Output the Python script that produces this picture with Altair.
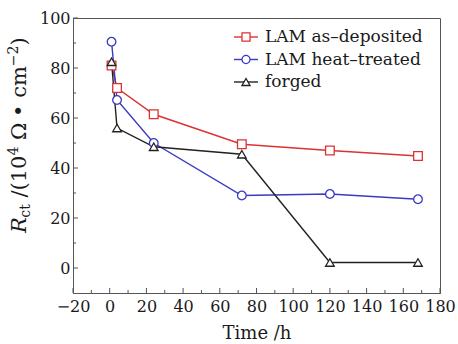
import altair as alt
import pandas as pd

# ---------------- data ----------------
series_names = ["LAM as–deposited", "LAM heat–treated", "forged"]
time_h = [1, 4, 24, 72, 120, 168]
rct_as_deposited = [81.0, 72.0, 61.5, 49.5, 47.0, 44.8]
rct_heat_treated = [90.5, 67.2, 50.0, 29.0, 29.6, 27.5]
rct_forged = [82.5, 56.0, 48.5, 45.5, 2.2, 2.2]

x_major = list(range(-20, 181, 20))
x_minor = list(range(-10, 180, 20))
y_major = list(range(0, 101, 20))
y_minor = list(range(10, 100, 20))

colors = ["#dc3232", "#3a3ac2", "#222222"]
shapes = ["square", "circle", "triangle-up"]

rows = []
for name, vals in zip(series_names, [rct_as_deposited, rct_heat_treated, rct_forged]):
    for t, v in zip(time_h, vals):
        rows.append({"series": name, "time": t, "rct": v})
df = pd.DataFrame(rows)

FONT = "DejaVu Serif"
W, H = 367, 275
xs = alt.Scale(domain=[-20, 180], nice=False, zero=False)
ys = alt.Scale(domain=[-10, 100], nice=False, zero=False)
cs = alt.Scale(domain=series_names, range=colors)
ss = alt.Scale(domain=series_names, range=shapes)

x_axis = alt.Axis(values=x_major, ticks=False, tickSize=0, labelPadding=5,
                  labelFlush=False, labelOverlap=False,
                  labelFont=FONT, labelFontSize=16, labelColor="#1a1a1a",
                  title="Time /h", titleFont=FONT, titleFontSize=18,
                  titleFontWeight="normal", titleColor="#1a1a1a",
                  titleBaseline="alphabetic", titleY=45,
                  domainColor="#555555", grid=False)
y_axis = alt.Axis(values=y_major, ticks=False, tickSize=0, labelPadding=3,
                  labelFlush=False, labelOverlap=False,
                  labelFont=FONT, labelFontSize=16, labelColor="#1a1a1a",
                  title="", domainColor="#555555", grid=False)

X_TIME = alt.X("time:Q", scale=xs, axis=x_axis, title="Time /h")
Y_RCT = alt.Y("rct:Q", scale=ys, axis=y_axis, title="")

lines = alt.Chart(df).mark_line(strokeWidth=1.4).encode(
    x=X_TIME, y=Y_RCT,
    color=alt.Color("series:N", scale=cs, legend=None),
    detail="series:N",
)
points = alt.Chart(df).mark_point(size=75, strokeWidth=1.3, fill="white",
                                  fillOpacity=1, opacity=1).encode(
    x=X_TIME, y=Y_RCT,
    color=alt.Color("series:N", scale=cs, legend=None),
    shape=alt.Shape("series:N", scale=ss, legend=None),
)

# inward ticks
def xticks(vals, length):
    return alt.Chart(pd.DataFrame({"time": vals})).mark_rule(color="#555555", strokeWidth=1).encode(
        x=X_TIME, y=alt.value(H), y2=alt.value(H - length))

def yticks(vals, length):
    return alt.Chart(pd.DataFrame({"rct": vals})).mark_rule(color="#555555", strokeWidth=1).encode(
        y=Y_RCT, x=alt.value(0), x2=alt.value(length))

ticks = [xticks(x_major, 5), xticks(x_minor, 3), yticks(y_major, 5), yticks(y_minor, 3)]

# manual legend
leg_df = pd.DataFrame({"series": series_names})
legend_layers = []
for i, (name, col, shp) in enumerate(zip(series_names, colors, shapes)):
    yy = 19 + 22.5 * i
    sub = alt.Chart(leg_df).transform_filter(alt.datum.series == name)
    legend_layers.append(sub.mark_rule(color=col, strokeWidth=1.4).encode(
        x=alt.value(161), x2=alt.value(185), y=alt.value(yy)))
    legend_layers.append(sub.mark_point(shape=shp, color=col, size=65, strokeWidth=1.3,
                                        fill="white", fillOpacity=1, opacity=1).encode(
        x=alt.value(173), y=alt.value(yy)))
    legend_layers.append(sub.mark_text(font=FONT, fontSize=17, align="left", baseline="middle",
                                       color="#1a1a1a").encode(
        x=alt.value(192), y=alt.value(yy), text="series:N"))

# y-axis title built from pieces (italic R, subscript, superscripts)
em = {"/": 0.337, "(": 0.39, ")": 0.39, "Ω": 0.78, "•": 0.59,
      "c": 0.56, "m": 0.949, "t": 0.402, "−": 0.838, "R": 0.73}
def width(s, size):
    return sum(em.get(ch, 0.636) for ch in s) * size

SP = 0.318 * 21
# (text, size, style, baseline x, gap before)
pieces = [("R", 21, "italic", -47, 0), ("ct", 14, "normal", -43, 0),
          ("/(10", 21, "normal", -47, SP), ("4", 14, "normal", -55, 0),
          ("Ω", 21, "normal", -47, SP), ("•", 21, "normal", -47, SP),
          ("cm", 21, "normal", -47, SP), ("−2", 14, "normal", -55, 0),
          (")", 21, "normal", -47, 0)]
one = pd.DataFrame({"k": [0]})
title_layers = []
ypos = 215.0
for txt, size, style, bx, gap in pieces:
    ypos -= gap
    title_layers.append(alt.Chart(one).mark_text(
        text=txt, font=FONT, fontSize=size, fontStyle=style, angle=270,
        align="left", baseline="alphabetic", color="#1a1a1a").encode(
        x=alt.value(bx), y=alt.value(ypos)))
    ypos -= width(txt, size)

chart = alt.layer(lines, points, *ticks, *legend_layers, *title_layers).properties(
    width=W, height=H,
    autosize=alt.AutoSizeParams(type="none"),
    padding={"left": 73, "top": 18, "right": 18, "bottom": 51},
    background="white",
).configure_view(stroke="#555555", strokeWidth=1)

chart.save("out.html", embed_options={"renderer": "svg", "actions": False})
